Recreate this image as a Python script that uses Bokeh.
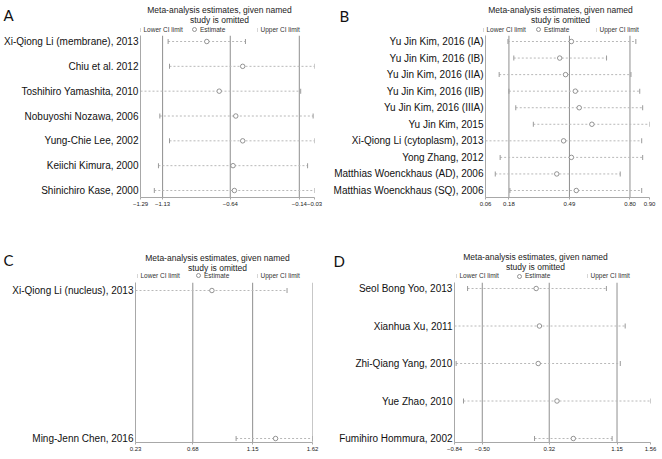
import numpy as np
from bokeh.plotting import figure
from bokeh.models import (Range1d, FixedTicker, Span, Label, Legend, LegendItem,
                          ColumnDataSource)
from bokeh.layouts import row, column
from bokeh.embed import file_html
from bokeh.resources import INLINE

# ---------------- data ----------------
# Panel A
a_studies = ["Xi-Qiong Li (membrane), 2013", "Chiu et al. 2012", "Toshihiro Yamashita, 2010",
             "Nobuyoshi Nozawa, 2006", "Yung-Chie Lee, 2002", "Keiichi Kimura, 2000",
             "Shinichiro Kase, 2000"]
a_est = [-0.81, -0.55, -0.72, -0.60, -0.55, -0.62, -0.61]
a_lower = [-1.09, -1.08, -1.29, -1.15, -1.08, -1.16, -1.19]
a_upper = [-0.53, -0.03, -0.13, -0.04, -0.03, -0.08, -0.03]
a_overall = [-1.13, -0.64, -0.14]
a_ticks = [-1.29, -1.13, -0.64, -0.14, -0.03]
a_tick_labels = ["\u22121.29", "\u22121.13", "\u22120.64", "\u22120.14", "\u22120.03"]

# Panel B
b_studies = ["Yu Jin Kim, 2016 (IA)", "Yu Jin Kim, 2016 (IB)", "Yu Jin Kim, 2016 (IIA)",
             "Yu Jin Kim, 2016 (IIB)", "Yu Jin Kim, 2016 (IIIA)", "Yu Jin Kim, 2015",
             "Xi-Qiong Li (cytoplasm), 2013", "Yong Zhang, 2012",
             "Matthias Woenckhaus (AD), 2006", "Matthias Woenckhaus (SQ), 2006"]
b_est = [0.50, 0.44, 0.47, 0.52, 0.54, 0.605, 0.46, 0.50, 0.425, 0.525]
b_lower = [0.175, 0.205, 0.13, 0.18, 0.215, 0.305, 0.06, 0.135, 0.11, 0.185]
b_upper = [0.83, 0.68, 0.805, 0.85, 0.865, 0.90, 0.86, 0.865, 0.75, 0.86]
b_overall = [0.18, 0.49, 0.80]
b_ticks = [0.06, 0.18, 0.49, 0.80, 0.90]
b_tick_labels = ["0.06", "0.18", "0.49", "0.80", "0.90"]

# Panel C
c_studies = ["Xi-Qiong Li (nucleus), 2013", "Ming-Jenn Chen, 2016"]
c_est = [0.83, 1.33]
c_lower = [0.23, 1.02]
c_upper = [1.42, 1.62]
c_overall = [0.68, 1.15, 1.62]
c_ticks = [0.23, 0.68, 1.15, 1.62]
c_tick_labels = ["0.23", "0.68", "1.15", "1.62"]

# Panel D
d_studies = ["Seol Bong Yoo, 2013", "Xianhua Xu, 2011", "Zhi-Qiang Yang, 2010",
             "Yue Zhao, 2010", "Fumihiro Hommura, 2002"]
d_est = [0.16, 0.20, 0.185, 0.415, 0.615]
d_lower = [-0.68, -0.84, -0.82, -0.73, 0.14]
d_upper = [1.02, 1.25, 1.19, 1.56, 1.09]
d_overall = [-0.50, 0.32, 1.15]
d_ticks = [-0.84, -0.50, 0.32, 1.15, 1.56]
d_tick_labels = ["\u22120.84", "\u22120.50", "0.32", "1.15", "1.56"]

TITLE1 = "Meta-analysis estimates, given named"
TITLE2 = "study is omitted"
LEGEND_LABELS = ["Lower CI limit", "Estimate", "Upper CI limit"]

FONT = "Liberation Sans"
REF_COLOR = "#8f8f8f"
AXIS_COLOR = "#a8a8a8"
DASH_COLOR = "#b8b8b8"
CAP_COLOR = "#9a9a9a"
EST_COLOR = "#7a7a7a"


def style_blank(p):
    p.outline_line_color = None
    p.grid.visible = False
    p.background_fill_color = "white"
    p.border_fill_color = "white"


def make_header(letter, src, w, h, letter_pos, title_x, title_tops, leg_x, leg_top):
    hp = figure(width=w, height=h, output_backend="svg", toolbar_location=None,
                x_range=Range1d(0, 1), y_range=Range1d(0, 1),
                x_axis_location=None, y_axis_location=None,
                min_border_left=0, min_border_right=0, min_border_top=0, min_border_bottom=0)
    style_blank(hp)
    lx, ly = letter_pos
    hp.add_layout(Label(x=lx, y=h - ly, x_units="screen", y_units="screen",
                        text=letter, text_font="Lato", text_font_size="15px",
                        text_align="left", text_baseline="middle", text_color="#111111"))
    for txt, tp in zip((TITLE1, TITLE2), title_tops):
        hp.add_layout(Label(x=title_x, y=h - tp, x_units="screen", y_units="screen",
                            text=txt, text_font=FONT, text_font_size="8.5px",
                            text_align="center", text_baseline="middle",
                            text_color="#222222"))
    # legend keys: same glyphs as the panel, hidden in this header strip
    r_lo = hp.rect(x="lower", y="y", width=1, height=5, width_units="screen",
                   height_units="screen", source=src, fill_color=CAP_COLOR,
                   line_color=None, visible=False)
    r_est = hp.scatter(x="est", y="y", source=src, marker="circle", size=4.5,
                       fill_color="white", line_color=EST_COLOR, line_width=0.8,
                       visible=False)
    r_hi = hp.rect(x="upper", y="y", width=1, height=5, width_units="screen",
                   height_units="screen", source=src, fill_color=CAP_COLOR,
                   line_color=None, visible=False)
    rends = [r_lo, r_est, r_hi]
    gw = [1, 10, 1]
    gh = [5, 10, 5]
    stand = [3, 1, 3]
    for lbl, r, x, wdt, hgt, so in zip(LEGEND_LABELS, rends, leg_x, gw, gh, stand):
        item_h = max(hgt, 8)
        leg = Legend(items=[LegendItem(label=lbl, renderers=[r], index=0)],
                     location=(x - wdt / 2, h - leg_top - item_h / 2),
                     orientation="horizontal", glyph_width=wdt, glyph_height=hgt,
                     label_standoff=so, padding=0, margin=0, spacing=0,
                     label_height=8, border_line_color=None, background_fill_alpha=0,
                     inactive_fill_alpha=0, click_policy="none",
                     label_text_font=FONT, label_text_font_size="6.5px",
                     label_text_color="#333333")
        hp.add_layout(leg)
    return hp


def make_panel(studies, est, lower, upper, overall, ticks, tick_labels,
               w, h, frame, pad_px):
    fl, fr, ft, fb = frame
    n = len(studies)
    fh = h - ft - fb
    pt, pb = pad_px
    step = (fh - pt - pb) / (n - 1)
    p = figure(width=w, height=h, output_backend="svg", toolbar_location=None,
               x_range=Range1d(ticks[0], ticks[-1]),
               y_range=Range1d(n + pb / step, 1 - pt / step),
               min_border_left=fl, min_border_right=fr,
               min_border_top=ft, min_border_bottom=fb)
    style_blank(p)

    src = ColumnDataSource(dict(y=list(range(1, n + 1)), est=est, lower=lower, upper=upper))

    for v in overall:
        p.add_layout(Span(location=v, dimension="height", line_color=REF_COLOR,
                          line_width=1, level="underlay"))

    p.segment(x0="lower", y0="y", x1="upper", y1="y", source=src,
              line_color=DASH_COLOR, line_width=1, line_dash="2 2")
    p.rect(x="lower", y="y", width=1, height=5, width_units="screen",
           height_units="screen", source=src, fill_color=CAP_COLOR, line_color=None)
    p.rect(x="upper", y="y", width=1, height=5, width_units="screen",
           height_units="screen", source=src, fill_color=CAP_COLOR, line_color=None)
    p.scatter(x="est", y="y", source=src, marker="circle", size=4.5,
              fill_color="white", line_color=EST_COLOR, line_width=0.8)

    xa = p.xaxis[0]
    xa.ticker = FixedTicker(ticks=ticks)
    xa.major_label_overrides = {t: l for t, l in zip(ticks, tick_labels)}
    xa.major_label_text_font = FONT
    xa.major_label_text_font_size = "6px"
    xa.major_label_text_color = "#222222"
    xa.major_tick_out = 2
    xa.major_tick_in = 0
    xa.minor_tick_out = 0
    xa.minor_tick_in = 0
    xa.major_label_standoff = 2
    xa.axis_line_color = AXIS_COLOR
    xa.major_tick_line_color = AXIS_COLOR

    ya = p.yaxis[0]
    ya.ticker = FixedTicker(ticks=list(range(1, n + 1)))
    ya.major_label_overrides = {i + 1: s for i, s in enumerate(studies)}
    ya.major_label_text_font = FONT
    ya.major_label_text_font_size = "10px"
    ya.major_label_text_color = "#111111"
    ya.major_tick_out = 0
    ya.major_tick_in = 0
    ya.minor_tick_out = 0
    ya.minor_tick_in = 0
    ya.major_label_standoff = 2
    ya.axis_line_color = AXIS_COLOR
    return p, src


pA, sA = make_panel(a_studies, a_est, a_lower, a_upper, a_overall, a_ticks, a_tick_labels,
                    330, 195, (139, 16, 0, 33), (6, 7))
pB, sB = make_panel(b_studies, b_est, b_lower, b_upper, b_overall, b_ticks, b_tick_labels,
                    328, 195, (152, 9, 0, 33), (6, 7))
pC, sC = make_panel(c_studies, c_est, c_lower, c_upper, c_overall, c_ticks, c_tick_labels,
                    330, 175, (135, 18, 0, 15), (8, 4))
pD, sD = make_panel(d_studies, d_est, d_lower, d_upper, d_overall, d_ticks, d_tick_labels,
                    328, 175, (124, 8, 0, 15), (6, 4))

hA = make_header("A", sA, 330, 35, (3, 14.5), 219, (9, 19), (140, 194, 257), 29)
hB = make_header("B", sB, 328, 35, (9, 15), 230, (9, 19), (153, 208, 266), 29)
hC = make_header("C", sC, 330, 52, (3, 29), 217, (27, 37), (137, 198, 257), 45)
hD = make_header("D", sD, 328, 52, (3, 30.5), 205, (26, 36), (126, 189, 257), 45.5)

layout = column(row(hA, hB), row(pA, pB), row(hC, hD), row(pC, pD))

open("out.html", "w").write(file_html(layout, INLINE))
